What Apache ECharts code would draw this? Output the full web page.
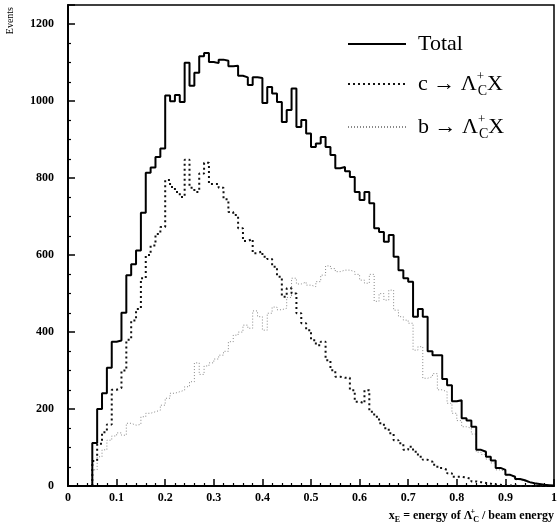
<!DOCTYPE html>
<html><head><meta charset="utf-8">
<script src="https://cdn.jsdelivr.net/npm/echarts@6/dist/echarts.min.js"></script>
<style>html,body{margin:0;padding:0;background:#fff}#c{width:560px;height:526px}</style>
</head><body><div id="c"></div>
<script>
// Histogram bins: left edges start at 0.05, width 0.01
const binStart = 0.05;
const binWidth = 0.01;

const totalCounts = [
  112, 200, 241, 307, 375, 378, 450, 548, 576, 612,
  710, 814, 828, 855, 877, 1015, 1000, 1016, 998, 1100,
  1040, 1074, 1117, 1125, 1102, 1099, 1108, 1105, 1091, 1092,
  1066, 1062, 1042, 1062, 1060, 995, 1037, 1020, 998, 946,
  977, 1033, 933, 951, 916, 881, 890, 907, 881, 860,
  826, 829, 818, 803, 764, 743, 764, 735, 670, 660,
  635, 652, 596, 561, 540, 531, 440, 460, 440, 350,
  340, 340, 278, 262, 220, 223, 176, 170, 154, 94,
  89, 76, 66, 47, 42, 29, 24, 18, 15, 10,
  7, 5, 3, 2, 1
];
const charmCounts = [
  65, 110, 140, 160, 250, 255, 300, 380, 430, 460,
  540, 600, 625, 655, 673, 795, 777, 764, 751, 848,
  775, 764, 812, 840, 785, 785, 775, 745, 712, 704,
  670, 637, 642, 605, 610, 596, 590, 570, 544, 492,
  514, 500, 449, 423, 405, 379, 366, 375, 327, 301,
  284, 281, 281, 249, 219, 215, 249, 193, 180, 163,
  150, 137, 119, 111, 94, 102, 89, 76, 68, 63,
  55, 47, 42, 33, 24, 24, 22, 18, 12, 10,
  8, 6, 4, 3, 2, 1, 1, 0, 0, 0,
  0, 0, 0, 0, 0
];
const bottomCounts = [
  42, 76, 94, 119, 130, 138, 132, 163, 158, 160,
  180, 189, 193, 197, 210, 228, 241, 245, 249, 258,
  271, 320, 290, 312, 320, 330, 340, 350, 375, 392,
  400, 418, 410, 455, 440, 405, 449, 465, 458, 462,
  490, 540, 525, 530, 522, 518, 531, 548, 572, 565,
  557, 561, 561, 557, 550, 535, 527, 550, 480, 500,
  483, 509, 457, 440, 431, 423, 353, 362, 280, 284,
  292, 250, 245, 215, 189, 170, 154, 150, 135, 88,
  82, 70, 60, 42, 38, 27, 22, 16, 12, 8,
  6, 4, 2, 1, 1
];
const seriesNames = ['Total', 'c', 'b'];

function toSteps(counts) {
  const pts = [[binStart, 0]];
  counts.forEach((v, i) => pts.push([+(binStart + i * binWidth).toFixed(2), v]));
  pts.push([+(binStart + counts.length * binWidth).toFixed(2), 0]);
  return pts;
}

const serif = '"Liberation Serif", "DejaVu Serif", serif';
const chart = echarts.init(document.getElementById('c'), null, {renderer: 'canvas'});

const legendRich = {
  t: {fontFamily: serif, fontSize: 22, color: '#000', lineHeight: 28},
  sup: {fontFamily: serif, fontSize: 13, color: '#000', verticalAlign: 'top', lineHeight: 14, width: 1, align: 'left'},
  sub: {fontFamily: serif, fontSize: 14, color: '#000', verticalAlign: 'bottom', lineHeight: 14}
};

chart.setOption({
  animation: false,
  backgroundColor: '#fff',
  grid: {left: 68, right: 2, top: 5, bottom: 40, show: true, borderColor: '#000', borderWidth: 1.5},
  legend: {
    orient: 'vertical', left: 342, top: 28,
    itemWidth: 58, itemHeight: 14, itemGap: 15,
    data: seriesNames,
    itemStyle: {opacity: 0},
    formatter: function (name) {
      if (name === 'Total') return '{t|Total}';
      return '{t|' + name + ' \u2192 \u039B}{sup|+}{sub|C}{t|X}';
    },
    textStyle: {rich: legendRich, padding: [0, 0, 0, 7]}
  },
  xAxis: {
    type: 'value', min: 0, max: 1, interval: 0.1,
    name: '{b|x}{s|E}{b| = energy of \u039B}{p|+}{s|C}{b| / beam energy}',
    nameLocation: 'end', nameGap: 0,
    nameTextStyle: {
      align: 'right', verticalAlign: 'top', padding: [22, 0, 0, 0],
      rich: {
        b: {fontFamily: serif, fontSize: 12, fontWeight: 'bold', color: '#000', lineHeight: 16},
        s: {fontFamily: serif, fontSize: 8, fontWeight: 'bold', color: '#000', verticalAlign: 'bottom', lineHeight: 9},
        p: {fontFamily: serif, fontSize: 8, fontWeight: 'bold', color: '#000', verticalAlign: 'top', lineHeight: 9, width: 1, align: 'left'}
      }
    },
    axisLine: {lineStyle: {color: '#000', width: 2}},
    axisTick: {inside: true, length: 7, lineStyle: {color: '#000', width: 1.5}},
    minorTick: {show: true, splitNumber: 5, length: 3, lineStyle: {color: '#000', width: 1.2}},
    splitLine: {show: false},
    axisLabel: {fontFamily: serif, fontSize: 12, fontWeight: 'bold', color: '#000', margin: 6}
  },
  yAxis: {
    type: 'value', min: 0, max: 1250, interval: 200,
    name: 'Events',
    nameLocation: 'end', nameGap: -2, nameRotate: 90,
    nameTextStyle: {fontFamily: serif, fontSize: 10, color: '#000', align: 'right', verticalAlign: 'bottom', padding: [0, 0, 53, 0]},
    axisLine: {lineStyle: {color: '#000', width: 2}},
    axisTick: {inside: true, length: 7, lineStyle: {color: '#000', width: 1.5}},
    minorTick: {show: true, splitNumber: 4, length: 3, lineStyle: {color: '#000', width: 1.2}},
    splitLine: {show: false},
    axisLabel: {fontFamily: serif, fontSize: 12, fontWeight: 'bold', color: '#000', margin: 14,
      formatter: v => (v % 200 === 0 ? String(v) : '')}
  },
  series: [
    {name: seriesNames[0], type: 'line', step: 'end', symbol: 'none', data: toSteps(totalCounts),
     lineStyle: {color: '#000', width: 2}, itemStyle: {color: '#000'}, z: 3},
    {name: seriesNames[1], type: 'line', step: 'end', symbol: 'none', data: toSteps(charmCounts),
     lineStyle: {color: '#111', width: 2, type: [2, 3]}, itemStyle: {color: '#111'}, z: 2},
    {name: seriesNames[2], type: 'line', step: 'end', symbol: 'none', data: toSteps(bottomCounts),
     lineStyle: {color: '#888', width: 1, type: [1, 2]}, itemStyle: {color: '#888'}, z: 1}
  ]
});
</script>
</body></html>
